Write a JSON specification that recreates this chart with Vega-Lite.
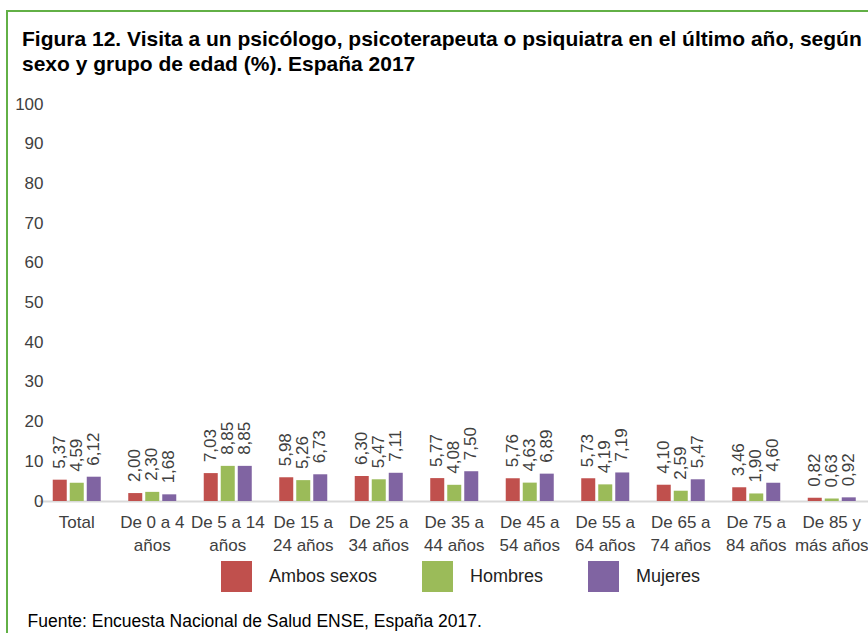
{
  "$schema": "https://vega.github.io/schema/vega-lite/v6.json",
  "width": 880,
  "height": 640,
  "autosize": {"type": "none"},
  "padding": {"left": 7, "top": 11, "right": 0, "bottom": 0},
  "background": "white",
  "title": {
    "text": ["Figura 12. Visita a un psicólogo, psicoterapeuta o psiquiatra en el último año, según", "sexo y grupo de edad (%). España 2017"],
    "anchor": "start",
    "frame": "group",
    "dx": 15,
    "offset": -64,
    "fontSize": 21,
    "font": "Liberation Sans",
    "fontWeight": "bold",
    "lineHeight": 25,
    "color": "#000000"
  },
  "data": {
    "values": [
      {"grupo": "Total", "sexo": "Ambos sexos", "valor": 5.37},
      {"grupo": "Total", "sexo": "Hombres", "valor": 4.59},
      {"grupo": "Total", "sexo": "Mujeres", "valor": 6.12},
      {"grupo": "De 0 a 4 años", "sexo": "Ambos sexos", "valor": 2.00},
      {"grupo": "De 0 a 4 años", "sexo": "Hombres", "valor": 2.30},
      {"grupo": "De 0 a 4 años", "sexo": "Mujeres", "valor": 1.68},
      {"grupo": "De 5 a 14 años", "sexo": "Ambos sexos", "valor": 7.03},
      {"grupo": "De 5 a 14 años", "sexo": "Hombres", "valor": 8.85},
      {"grupo": "De 5 a 14 años", "sexo": "Mujeres", "valor": 8.85},
      {"grupo": "De 15 a 24 años", "sexo": "Ambos sexos", "valor": 5.98},
      {"grupo": "De 15 a 24 años", "sexo": "Hombres", "valor": 5.26},
      {"grupo": "De 15 a 24 años", "sexo": "Mujeres", "valor": 6.73},
      {"grupo": "De 25 a 34 años", "sexo": "Ambos sexos", "valor": 6.30},
      {"grupo": "De 25 a 34 años", "sexo": "Hombres", "valor": 5.47},
      {"grupo": "De 25 a 34 años", "sexo": "Mujeres", "valor": 7.11},
      {"grupo": "De 35 a 44 años", "sexo": "Ambos sexos", "valor": 5.77},
      {"grupo": "De 35 a 44 años", "sexo": "Hombres", "valor": 4.08},
      {"grupo": "De 35 a 44 años", "sexo": "Mujeres", "valor": 7.50},
      {"grupo": "De 45 a 54 años", "sexo": "Ambos sexos", "valor": 5.76},
      {"grupo": "De 45 a 54 años", "sexo": "Hombres", "valor": 4.63},
      {"grupo": "De 45 a 54 años", "sexo": "Mujeres", "valor": 6.89},
      {"grupo": "De 55 a 64 años", "sexo": "Ambos sexos", "valor": 5.73},
      {"grupo": "De 55 a 64 años", "sexo": "Hombres", "valor": 4.19},
      {"grupo": "De 55 a 64 años", "sexo": "Mujeres", "valor": 7.19},
      {"grupo": "De 65 a 74 años", "sexo": "Ambos sexos", "valor": 4.10},
      {"grupo": "De 65 a 74 años", "sexo": "Hombres", "valor": 2.59},
      {"grupo": "De 65 a 74 años", "sexo": "Mujeres", "valor": 5.47},
      {"grupo": "De 75 a 84 años", "sexo": "Ambos sexos", "valor": 3.46},
      {"grupo": "De 75 a 84 años", "sexo": "Hombres", "valor": 1.90},
      {"grupo": "De 75 a 84 años", "sexo": "Mujeres", "valor": 4.60},
      {"grupo": "De 85 y más años", "sexo": "Ambos sexos", "valor": 0.82},
      {"grupo": "De 85 y más años", "sexo": "Hombres", "valor": 0.63},
      {"grupo": "De 85 y más años", "sexo": "Mujeres", "valor": 0.92}
    ]
  },
  "encoding": {
    "x": {
      "field": "grupo",
      "type": "nominal",
      "sort": null,
      "scale": {"range": [32, 862.5], "paddingInner": 0.364, "paddingOuter": 0.182},
      "axis": {
        "orient": "bottom",
        "offset": -150,
        "labelAngle": 0,
        "ticks": false,
        "tickSize": 0,
        "domainColor": "#d9d9d9",
        "domainWidth": 2,
        "labelPadding": 13,
        "labelBaseline": "top",
        "labelFontSize": 17,
        "labelFont": "Liberation Sans",
        "labelColor": "#404040",
        "labelLineHeight": 23,
        "labelOverlap": false,
        "labelBound": false,
        "labelExpr": "datum.label == 'Total' ? 'Total' : (length(datum.label) <= 14 ? [replace(datum.label, ' años', ''), 'años'] : [substring(datum.label, 0, 7), substring(datum.label, 8)])",
        "title": "Fuente: Encuesta Nacional de Salud ENSE, España 2017.",
        "titleX": 20,
        "titleY": 125,
        "titleAnchor": "start",
        "titleAlign": "left",
        "titleBaseline": "alphabetic",
        "titleFontSize": 17.5,
        "titleFont": "Liberation Sans",
        "titleFontWeight": "normal",
        "titleColor": "#000000"
      }
    },
    "xOffset": {
      "field": "sexo",
      "type": "nominal",
      "sort": ["Ambos sexos", "Hombres", "Mujeres"],
      "scale": {"paddingInner": 0.176, "paddingOuter": 0}
    },
    "y": {
      "field": "valor",
      "type": "quantitative",
      "scale": {"domain": [0, 100], "range": [490, 93], "nice": false, "zero": true},
      "axis": {
        "values": [0, 10, 20, 30, 40, 50, 60, 70, 80, 90, 100],
        "offset": -38,
        "ticks": false,
        "domain": false,
        "grid": false,
        "labelPadding": 2,
        "labelFontSize": 17,
        "labelFont": "Liberation Sans",
        "labelColor": "#404040",
        "title": null
      }
    }
  },
  "layer": [
    {
      "mark": {"type": "bar"},
      "encoding": {
        "color": {
          "field": "sexo",
          "type": "nominal",
          "scale": {"domain": ["Ambos sexos", "Hombres", "Mujeres"], "range": ["#C0504D", "#9BBB59", "#8064A2"]},
          "legend": {
            "orient": "none",
            "legendX": 214,
            "legendY": 550,
            "direction": "horizontal",
            "title": null,
            "symbolType": "square",
            "symbolSize": 961,
            "symbolStrokeWidth": 0,
            "symbolOpacity": 1,
            "labelFontSize": 18,
            "labelFont": "Liberation Sans",
            "labelColor": "#222222",
            "labelOffset": 17,
            "columnPadding": 44
          }
        }
      }
    },
    {
      "mark": {"type": "text", "angle": 270, "align": "left", "baseline": "middle", "dx": 11, "fontSize": 17, "font": "Liberation Sans", "color": "#404040"},
      "encoding": {
        "text": {"field": "valor", "type": "quantitative", "format": ".2f"}
      }
    }
  ],
  "config": {
    "view": {"stroke": "#62B046", "strokeWidth": 2},
    "locale": {"number": {"decimal": ",", "thousands": ".", "grouping": [3], "currency": ["", " €"]}}
  }
}
